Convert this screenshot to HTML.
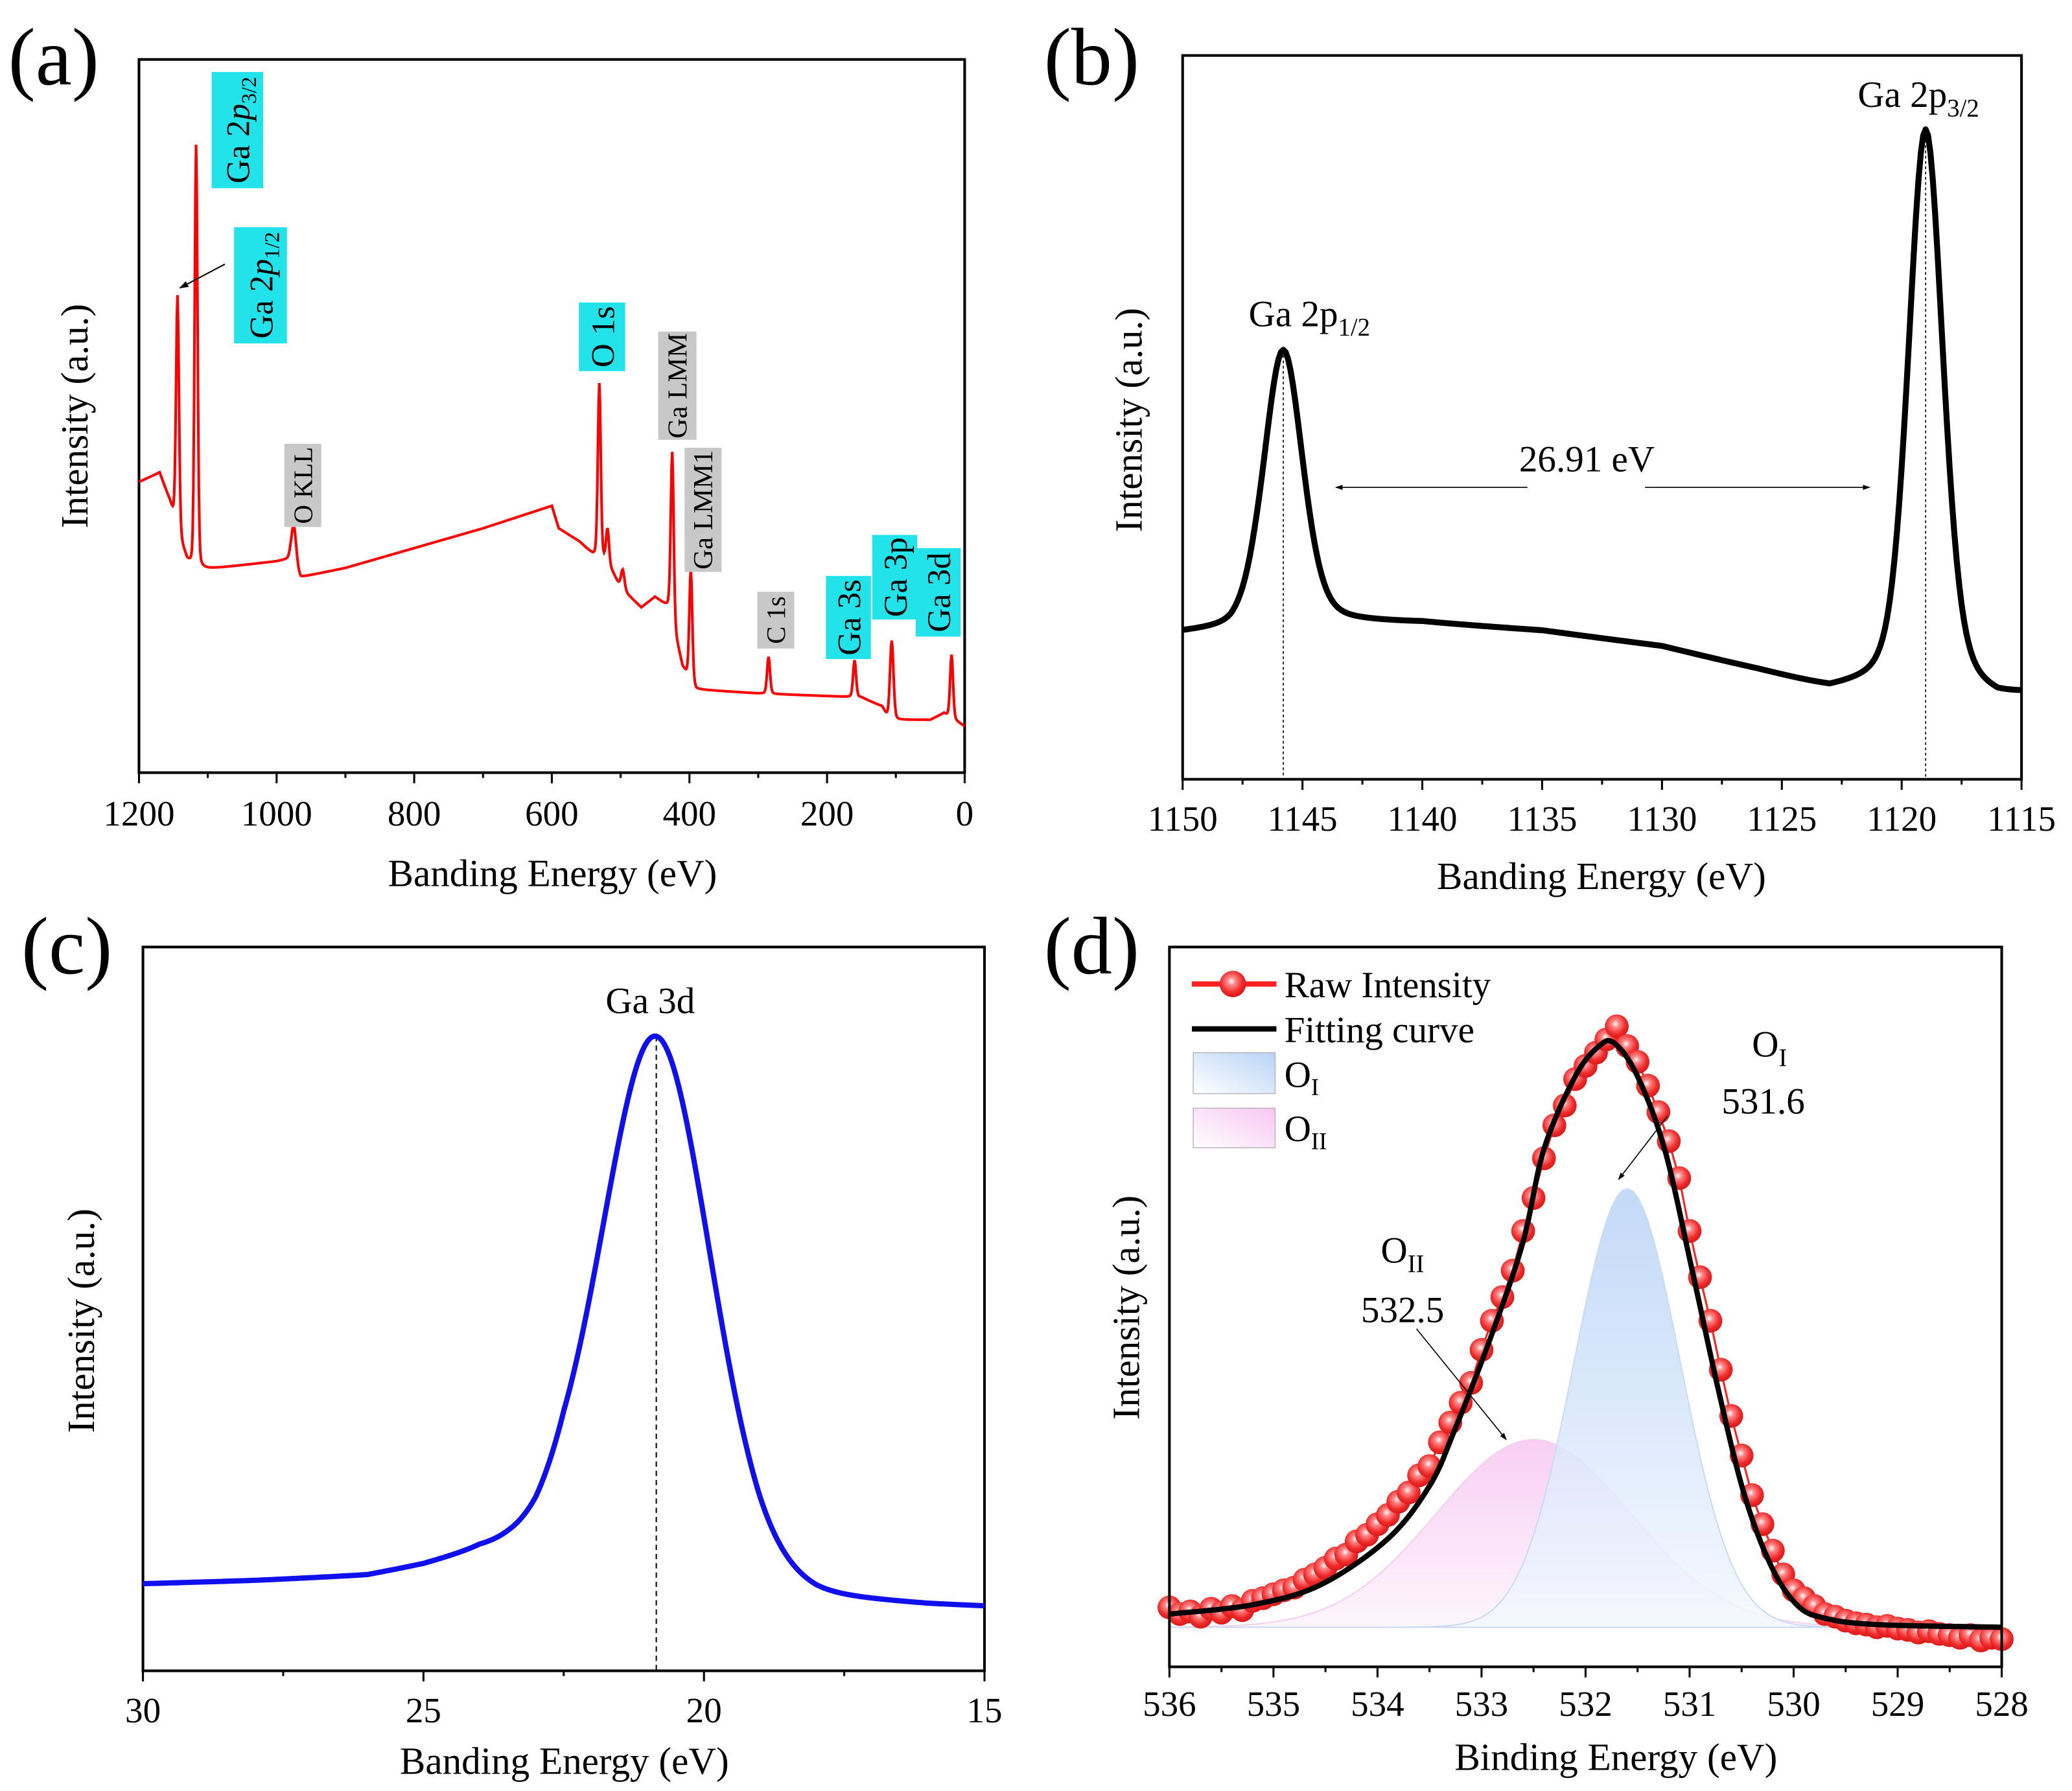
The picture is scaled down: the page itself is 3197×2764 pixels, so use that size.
<!DOCTYPE html>
<html><head><meta charset="utf-8"><style>
html,body{margin:0;padding:0;background:#fff}
svg{display:block}
text{font-family:"Liberation Serif",serif;fill:#000}
</style></head><body>
<svg id="fig" xmlns="http://www.w3.org/2000/svg" width="3197" height="2764" viewBox="0 0 1568 1356">
<defs>
<marker id="arr" viewBox="0 0 10 10" refX="9" refY="5" markerWidth="7" markerHeight="7" orient="auto-start-reverse"><path d="M0,1.5 L10,5 L0,8.5 z" fill="#000"/></marker>
<linearGradient id="gBlue" x1="0" y1="0" x2="0" y2="1"><stop offset="0" stop-color="#b8d3f6"/><stop offset="1" stop-color="#f4f8ff"/></linearGradient>
<linearGradient id="gPink" x1="0" y1="0" x2="0" y2="1"><stop offset="0" stop-color="#f7c6f2"/><stop offset="1" stop-color="#fdf4fc"/></linearGradient>
<linearGradient id="gBlueL" x1="0" y1="1" x2="1" y2="0"><stop offset="0" stop-color="#fff"/><stop offset="1" stop-color="#b8d3f6"/></linearGradient>
<linearGradient id="gPinkL" x1="0" y1="1" x2="1" y2="0"><stop offset="0" stop-color="#fff"/><stop offset="1" stop-color="#f7c6f2"/></linearGradient>
<radialGradient id="gBall" cx="0.45" cy="0.4" r="0.6"><stop offset="0" stop-color="#fff"/><stop offset="0.25" stop-color="#ff8a8a"/><stop offset="0.7" stop-color="#f02a2a"/><stop offset="1" stop-color="#d81818"/></radialGradient>
</defs>

<text x="6" y="64" font-size="62">(a)</text>
<text x="790" y="64" font-size="62">(b)</text>
<text x="16" y="737" font-size="62">(c)</text>
<text x="790" y="737" font-size="62">(d)</text>

<g id="pa">
<rect x="105" y="45" width="625" height="540" fill="none" stroke="#000" stroke-width="2"/>
<g id="pa-ticks"></g>
<path id="pa-line" fill="none" stroke="#ff0000" stroke-width="2"/>
<text x="418" y="671" font-size="29" text-anchor="middle">Banding Energy (eV)</text>
<text transform="translate(66,315) rotate(-90)" font-size="29" text-anchor="middle">Intensity (a.u.)</text>
<line x1="170" y1="200" x2="136" y2="218" stroke="#000" stroke-width="1" marker-end="url(#arr)"/>
<g transform="translate(179.5,98.5) rotate(-90)"><rect x="-44" y="-19.5" width="88" height="39" fill="#22e3ea"/><text x="0" y="9" font-size="25" text-anchor="middle">Ga 2<tspan font-style="italic">p</tspan><tspan font-size="16" dy="5">3/2</tspan></text></g>
<g transform="translate(197,216) rotate(-90)"><rect x="-44" y="-20" width="88" height="40" fill="#22e3ea"/><text x="0" y="9" font-size="25" text-anchor="middle">Ga 2<tspan font-style="italic">p</tspan><tspan font-size="16" dy="5">1/2</tspan></text></g>
<g transform="translate(229,367.5) rotate(-90)"><rect x="-31.5" y="-14" width="63" height="28" fill="#c8c8c8"/><text x="0" y="7" font-size="20" text-anchor="middle">O KLL</text></g>
<g transform="translate(455.5,255) rotate(-90)"><rect x="-26" y="-17.5" width="52" height="35" fill="#22e3ea"/><text x="0" y="9" font-size="25" text-anchor="middle">O 1s</text></g>
<g transform="translate(512.5,292) rotate(-90)"><rect x="-41" y="-14.5" width="82" height="29" fill="#c8c8c8"/><text x="0" y="7" font-size="21" text-anchor="middle">Ga LMM</text></g>
<g transform="translate(532,386) rotate(-90)"><rect x="-47" y="-14" width="94" height="28" fill="#c8c8c8"/><text x="0" y="7" font-size="21" text-anchor="middle">Ga LMM1</text></g>
<g transform="translate(587,469.5) rotate(-90)"><rect x="-21.5" y="-14" width="43" height="28" fill="#c8c8c8"/><text x="0" y="7" font-size="20" text-anchor="middle">C 1s</text></g>
<g transform="translate(642,467.5) rotate(-90)"><rect x="-31.5" y="-17" width="63" height="34" fill="#22e3ea"/><text x="0" y="9" font-size="25" text-anchor="middle">Ga 3s</text></g>
<g transform="translate(677,437) rotate(-90)"><rect x="-32" y="-17" width="64" height="34" fill="#22e3ea"/><text x="0" y="9" font-size="25" text-anchor="middle">Ga 3p</text></g>
<g transform="translate(710,448.5) rotate(-90)"><rect x="-33.5" y="-17" width="67" height="34" fill="#22e3ea"/><text x="0" y="9" font-size="25" text-anchor="middle">Ga 3d</text></g>
</g>

<g id="pb">
<rect x="895" y="42" width="635" height="548" fill="none" stroke="#000" stroke-width="2"/>
<g id="pb-ticks"></g>
<g id="pb-drop"></g>
<path id="pb-line" fill="none" stroke="#000" stroke-width="4.5" stroke-linejoin="round"/>
<text x="1212" y="673" font-size="29" text-anchor="middle">Banding Energy (eV)</text>
<text transform="translate(864,318) rotate(-90)" font-size="29" text-anchor="middle">Intensity (a.u.)</text>
<text x="945" y="247" font-size="28">Ga 2p<tspan font-size="19" dy="7">1/2</tspan></text>
<text x="1406" y="81" font-size="28">Ga 2p<tspan font-size="19" dy="7">3/2</tspan></text>
<text x="1201" y="357" font-size="28" text-anchor="middle">26.91 eV</text>
<line x1="1156" y1="369" x2="1011" y2="369" stroke="#000" stroke-width="0.8" marker-end="url(#arr)"/>
<line x1="1245" y1="369" x2="1415" y2="369" stroke="#000" stroke-width="0.8" marker-end="url(#arr)"/>
</g>

<g id="pc">
<rect x="108" y="717" width="637" height="548" fill="none" stroke="#000" stroke-width="2"/>
<g id="pc-ticks"></g>
<g id="pc-drop"></g>
<path id="pc-line" fill="none" stroke="#1010ee" stroke-width="4" stroke-linejoin="round"/>
<text x="427" y="1343" font-size="29" text-anchor="middle">Banding Energy (eV)</text>
<text transform="translate(71,1000) rotate(-90)" font-size="29" text-anchor="middle">Intensity (a.u.)</text>
<text x="492" y="767" font-size="28" text-anchor="middle">Ga 3d</text>
</g>

<g id="pd">
<g id="pd-fills"></g>
<path id="pd-rawline" fill="none" stroke="#ff2020" stroke-width="1.5"/>
<g id="pd-pts"></g>
<path id="pd-fit" fill="none" stroke="#000" stroke-width="4" stroke-linejoin="round"/>
<rect x="885" y="717" width="630" height="545" fill="none" stroke="#000" stroke-width="2"/>
<g id="pd-ticks"></g>
<text x="1223" y="1340" font-size="29" text-anchor="middle">Binding Energy (eV)</text>
<text transform="translate(862,990) rotate(-90)" font-size="29" text-anchor="middle">Intensity (a.u.)</text>
<g>
<g><line x1="902" y1="745" x2="966" y2="745" stroke="#ff2020" stroke-width="4"/><circle cx="933" cy="745" r="10" fill="url(#gBall)"/><text x="972" y="755" font-size="28">Raw Intensity</text></g>
<g><line x1="902" y1="779" x2="966" y2="779" stroke="#000" stroke-width="4"/><text x="972" y="789" font-size="28">Fitting curve</text></g>
<g><rect x="903" y="797" width="62" height="31" fill="url(#gBlueL)" stroke="#aaa" stroke-width="0.6"/><text x="972" y="823" font-size="28">O<tspan font-size="18" dy="6">I</tspan></text></g>
<g><rect x="903" y="839" width="62" height="30" fill="url(#gPinkL)" stroke="#aaa" stroke-width="0.6"/><text x="972" y="864" font-size="28">O<tspan font-size="18" dy="6">II</tspan></text></g>
</g>
<text x="1326" y="800" font-size="28">O<tspan font-size="19" dy="7">I</tspan></text>
<text x="1303" y="843" font-size="28">531.6</text>
<line x1="1262" y1="845" x2="1225" y2="893" stroke="#000" stroke-width="0.8" marker-end="url(#arr)"/>
<text x="1045" y="956" font-size="28">O<tspan font-size="19" dy="7">II</tspan></text>
<text x="1030" y="1001" font-size="28">532.5</text>
<line x1="1072" y1="1006" x2="1140" y2="1090" stroke="#000" stroke-width="0.8" marker-end="url(#arr)"/>
</g>
</svg>

<script>
// Panel a: survey background + peaks
const aBgEnergy = [1200,1170,1155,1140,1130,1120,1000,980,965,900,800,700,600,590,560,540,520,500,470,450,430,410,390,300,200,150,120,110,50,30,0];
const aBgInt    = [220,227,205,175,160,153,160,162,148,155,170,185,202,185,175,165,160,140,125,133,125,80,63,60,58,57,50,40,40,45,35];
const aPeakEnergy = [1144,1117,975,531,519,497,425,398,285,160,106,19];
const aPeakHeight = [178,322,30,132,25,15,129,84,28,28,60,48];
const aPeakWidth  = [5,5,8,5,5,6,5,5,5,5,6,5];
const aTicks = [1200,1000,800,600,400,200,0];

// Panel b: Ga 2p
const bBgEnergy = [1150,1148,1147,1143,1140,1135,1130,1126,1123,1121,1118,1116,1115];
const bBgInt    = [110,112,118,118,118,112,100,82,67,70,70,60,62];
const bPeakEnergy = [1145.8,1119.0];
const bPeakHeight = [207,422];
const bPeakWidth  = [1.9,1.7];
const bTicks = [1150,1145,1140,1135,1130,1125,1120,1115];

// Panel c: Ga 3d
const cBgEnergy = [30,28,26,25,24,23.5,23,22.5,21.5,20,19,18,16,15];
const cBgInt    = [65,67,70,77,87,88,88,95,85,70,58,52,48,47];
const cPeakEnergy = [20.85];
const cPeakHeight = [402];
const cPeakWidth  = [2.3];
const cTicks = [30,25,20,15];

// Panel d: O 1s
const dRawStart = 536.0, dRawStep = -0.1;
const dRawInt = [45,40,42,38,44,41,46,43,50,52,55,58,60,66,70,75,82,85,95,100,108,115,125,132,145,152,170,185,200,215,240,262,280,300,330,355,385,410,425,445,455,465,475,485,470,458,440,420,398,370,330,295,262,225,190,160,130,108,88,70,58,52,46,40,38,35,33,32,30,31,29,28,26,27,25,24,22,24,20,22,21];
const dFitEnergy = [536,535.2,534.55,533.9,533.5,533.27,532.9,532.6,532.4,532.1,531.87,531.72,531.5,531.24,530.98,530.73,530.48,530.22,529.97,529.71,529.2,528];
const dFitInt    = [40,47,62,97,137,177,252,322,392,447,470,472,447,392,302,212,132,77,47,37,32,30];
const dCompNames = ['OI','OII'];
const dCompCenter = [531.6,532.5];
const dCompHeight = [332,142];
const dCompWidth  = [1.2,2.2];
const dCompBase = 30;
const dTicks = [536,535,534,533,532,531,530,529,528];

const NS='http://www.w3.org/2000/svg';
function interp(xs,ys,x){
  const dec = xs[0]>xs[xs.length-1];
  for(let i=0;i<xs.length-1;i++){
    const a=xs[i],b=xs[i+1];
    if((dec && x<=a && x>=b)||(!dec && x>=a && x<=b)){const t=(x-a)/(b-a);return ys[i]+t*(ys[i+1]-ys[i]);}
  }
  return dec ? (x>xs[0]?ys[0]:ys[ys.length-1]) : (x<xs[0]?ys[0]:ys[ys.length-1]);
}
function pv(x,c,h,w,eta){const r=(x-c)/w;return h*((1-eta)*Math.exp(-2.7726*r*r)+eta/(1+4*r*r));}
function linScale(d0,d1,r0,r1){return v=>r0+(v-d0)/(d1-d0)*(r1-r0);}
function smoothPath(pts){
  let d='M'+pts[0][0].toFixed(2)+','+pts[0][1].toFixed(2);
  for(let i=0;i<pts.length-1;i++){
    const p0=pts[Math.max(0,i-1)],p1=pts[i],p2=pts[i+1],p3=pts[Math.min(pts.length-1,i+2)];
    const c1=[p1[0]+(p2[0]-p0[0])/6,p1[1]+(p2[1]-p0[1])/6];
    const c2=[p2[0]-(p3[0]-p1[0])/6,p2[1]-(p3[1]-p1[1])/6];
    d+='C'+c1[0].toFixed(2)+','+c1[1].toFixed(2)+' '+c2[0].toFixed(2)+','+c2[1].toFixed(2)+' '+p2[0].toFixed(2)+','+p2[1].toFixed(2);
  }
  return d;
}
function drawTicks(gid,ticks,xs,yBase,minorStep,lo,hi,labelY){
  const g=document.getElementById(gid);
  const n=Math.round((hi-lo)/minorStep);
  for(let i=0;i<=n;i++){
    const v=lo+i*minorStep;
    const isMajor = ticks.some(t=>Math.abs(t-v)<1e-6);
    const ln=document.createElementNS(NS,'line');
    
    
    ln.setAttribute('x1',xs(v));ln.setAttribute('x2',xs(v));
    ln.setAttribute('y1',yBase);ln.setAttribute('y2',yBase+(isMajor?8:4));
    ln.setAttribute('stroke','#000');ln.setAttribute('stroke-width','1.5');
    g.appendChild(ln);
  }
  ticks.forEach(t=>{
    const tx=document.createElementNS(NS,'text');
    
    
    tx.setAttribute('x',xs(t));tx.setAttribute('y',labelY);
    tx.setAttribute('font-size','27');tx.setAttribute('text-anchor','middle');
    tx.textContent=String(t);
    g.appendChild(tx);
  });
}

// panel a
{
  const xs=linScale(1200,0,105,730), ys=v=>585-v;
  const pts=[];
  for(let e=1200;e>=0;e-=1){
    let v=interp(aBgEnergy,aBgInt,e);
    for(let k=0;k<aPeakEnergy.length;k++) v+=pv(e,aPeakEnergy[k],aPeakHeight[k],aPeakWidth[k],0.2);
    pts.push([xs(e),ys(v)]);
  }
  document.getElementById('pa-line').setAttribute('d','M'+pts.map(p=>p[0].toFixed(2)+','+p[1].toFixed(2)).join('L'));
  drawTicks('pa-ticks',aTicks,xs,585,100,0,1200,625);
}
// panel b
{
  const xs=linScale(1150,1115,895,1530), ys=v=>590-v;
  const pts=[];
  for(let e=1150;e>=1115-1e-9;e-=0.1){
    let v=interp(bBgEnergy,bBgInt,e);
    for(let k=0;k<bPeakEnergy.length;k++) v+=pv(e,bPeakEnergy[k],bPeakHeight[k],bPeakWidth[k],0.3);
    pts.push([xs(e),ys(v)]);
  }
  document.getElementById('pb-line').setAttribute('d','M'+pts.map(p=>p[0].toFixed(2)+','+p[1].toFixed(2)).join('L'));
  const g=document.getElementById('pb-drop');
  bPeakEnergy.forEach((e,k)=>{
    const top=interp(bBgEnergy,bBgInt,e)+bPeakHeight[k];
    const ln=document.createElementNS(NS,'line');
    
    
    ln.setAttribute('x1',xs(e));ln.setAttribute('x2',xs(e));ln.setAttribute('y1',ys(top));ln.setAttribute('y2',590);
    ln.setAttribute('stroke','#000');ln.setAttribute('stroke-width','0.8');ln.setAttribute('stroke-dasharray','2,2');
    g.appendChild(ln);
  });
  drawTicks('pb-ticks',bTicks,xs,590,2.5,1115,1150,629);
}
// panel c
{
  const xs=linScale(30,15,108,745), ys=v=>1265-v;
  const pts=[];
  for(let e=30;e>=15-1e-9;e-=0.05){
    let v=interp(cBgEnergy,cBgInt,e);
    for(let k=0;k<cPeakEnergy.length;k++) v+=pv(e,cPeakEnergy[k],cPeakHeight[k],cPeakWidth[k],0.15);
    pts.push([xs(e),ys(v)]);
  }
  document.getElementById('pc-line').setAttribute('d','M'+pts.map(p=>p[0].toFixed(2)+','+p[1].toFixed(2)).join('L'));
  const g=document.getElementById('pc-drop');
  cPeakEnergy.forEach((e,k)=>{
    const top=interp(cBgEnergy,cBgInt,e)+cPeakHeight[k];
    const ln=document.createElementNS(NS,'line');
    
    
    ln.setAttribute('x1',xs(e));ln.setAttribute('x2',xs(e));ln.setAttribute('y1',ys(top));ln.setAttribute('y2',1265);
    ln.setAttribute('stroke','#000');ln.setAttribute('stroke-width','1');ln.setAttribute('stroke-dasharray','4,3');
    g.appendChild(ln);
  });
  drawTicks('pc-ticks',cTicks,xs,1265,2.5,15,30,1304);
}
// panel d
{
  const xs=linScale(536,528,885,1515), ys=v=>1262-v;
  const fg=document.getElementById('pd-fills');
  const fills=['url(#gBlue)','url(#gPink)'];
  for(let k=dCompCenter.length-1;k>=0;k--){
    const pts=[];
    for(let e=536;e>=528-1e-9;e-=0.05){
      pts.push([xs(e),ys(dCompBase+pv(e,dCompCenter[k],dCompHeight[k],dCompWidth[k],0))]);
    }
    const p=document.createElementNS(NS,'path');
    
    
    p.setAttribute('d','M'+xs(536)+','+ys(dCompBase)+'L'+pts.map(q=>q[0].toFixed(2)+','+q[1].toFixed(2)).join('L')+'L'+xs(528)+','+ys(dCompBase)+'Z');
    p.setAttribute('fill',fills[k]);p.setAttribute('fill-opacity','0.85');
    p.setAttribute('stroke',k===0?'#c9dcf5':'#f3d0ef');p.setAttribute('stroke-width','1');
    fg.appendChild(p);
  }
  const raw=dRawInt.map((v,i)=>[xs(dRawStart+i*dRawStep),ys(v)]);
  document.getElementById('pd-rawline').setAttribute('d','M'+raw.map(p=>p[0].toFixed(2)+','+p[1].toFixed(2)).join('L'));
  const pg=document.getElementById('pd-pts');
  raw.forEach(p=>{
    const c=document.createElementNS(NS,'circle');
    
    
    c.setAttribute('cx',p[0]);c.setAttribute('cy',p[1]);c.setAttribute('r','9');
    c.setAttribute('fill','url(#gBall)');
    pg.appendChild(c);
  });
  const fit=dFitEnergy.map((e,i)=>[xs(e),ys(dFitInt[i])]);
  document.getElementById('pd-fit').setAttribute('d',smoothPath(fit));
  drawTicks('pd-ticks',dTicks,xs,1262,0.5,528,536,1299);
}
</script>
</body></html>
